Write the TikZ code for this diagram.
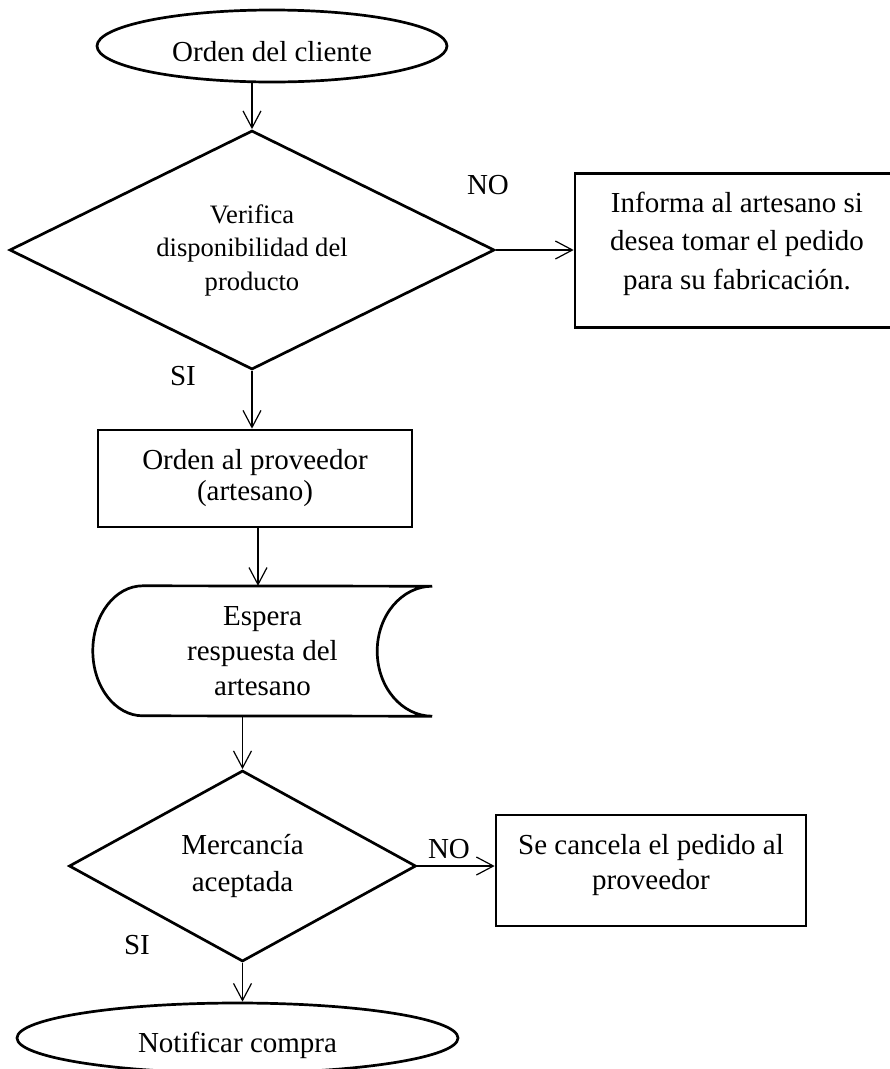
\documentclass[tikz,border=0pt]{standalone}
\usepackage{fontspec}
\setmainfont{Liberation Serif}
\usetikzlibrary{arrows.meta,shapes.geometric,positioning,calc}
\definecolor{lnc}{RGB}{0,0,0}
\tikzset{
  fs/.style={font=\fontsize{29}{#1}\selectfont},
  fs/.default=35,
  term/.style={ellipse,draw=lnc,line width=2.7pt,inner sep=0pt,fs},
  dec/.style={diamond,draw=lnc,line width=2.7pt,inner sep=0pt,align=center},
  proc/.style={rectangle,draw=lnc,line width=2.7pt,inner sep=0pt,align=center,fs=#1},
  proc/.default=35,
  lbl/.style={inner sep=0pt,fs},
  arr/.style={-{Straight Barb[length=17pt,width=18pt]},line width=1.2pt,color=lnc},
}
\begin{document}
\begin{tikzpicture}[x=1pt,y=-1pt]
  \useasboundingbox (0,0) rectangle (890,1069);
  \node[term,minimum width=350pt,minimum height=72pt] (ini) at (272,46) {\raisebox{-6pt}[\height][\depth]{Orden del cliente}};
  \node[dec,aspect=2.03,font=\fontsize{26.6}{33.5}\selectfont,minimum width=485pt,minimum height=239pt] (ver) at (252,250) {Verifica\\disponibilidad del\\producto};
  \node[proc=38.5,minimum width=324pt,minimum height=154pt] (info) at (737,250.5) {Informa al artesano si\\desea tomar el pedido\\para su fabricación.\rule[-20pt]{0pt}{0pt}};
  \node[proc=31,minimum width=314pt,minimum height=97pt] (ordp) at (255,478.5) {Orden al proveedor\\(artesano)};
  % espera: stored data outline drawn round the node
  \node[rectangle,inner sep=0pt,align=center,fs=35,minimum width=339pt,minimum height=130pt] (esp) at (262.5,651) {Espera\\respuesta del\\artesano};
  \draw[line width=2.7pt,color=lnc] ([xshift=50pt]esp.north west)
    arc[start angle=90,end angle=270,x radius=50pt,y radius=65pt] -- (esp.south east)
    arc[start angle=270,end angle=90,x radius=55pt,y radius=65pt] -- cycle;
  \node[dec,aspect=1.82,fs=37,minimum width=347pt,minimum height=191pt] (merc) at (242.5,866) {Mercancía\\aceptada};
  \node[proc=35,minimum width=310pt,minimum height=111pt] (canc) at (651,870.5) {Se cancela el pedido al\\proveedor\rule[-18pt]{0pt}{0pt}};
  \node[term,minimum width=441pt,minimum height=70pt] (fin) at (237.5,1038) {\raisebox{-14pt}[0pt][0pt]{Notificar compra}};
  % etiquetas
  \node[lbl] (no1) at (488,185) {NO};
  \node[lbl] (si1) at (183,376) {SI};
  \node[lbl] (no2) at (449,849) {NO};
  \node[lbl] (si2) at (137,945) {SI};
  % conectores
  \draw[arr] (ver.north |- ini.south) -- (ver.north);
  \draw[arr] (ver.east) -- (ver.east -| info.west);
  \draw[arr] (ver.south) -- (ver.south |- ordp.north);
  \draw[arr] ([xshift=3pt]ordp.south) -- ([xshift=3pt]ordp.south |- esp.north);
  \draw[arr] (merc.north |- esp.south) -- (merc.north);
  \draw[arr] (merc.east) -- (merc.east -| canc.west);
  \draw[arr] (merc.south) -- (merc.south |- fin.north);
\end{tikzpicture}
\end{document}
